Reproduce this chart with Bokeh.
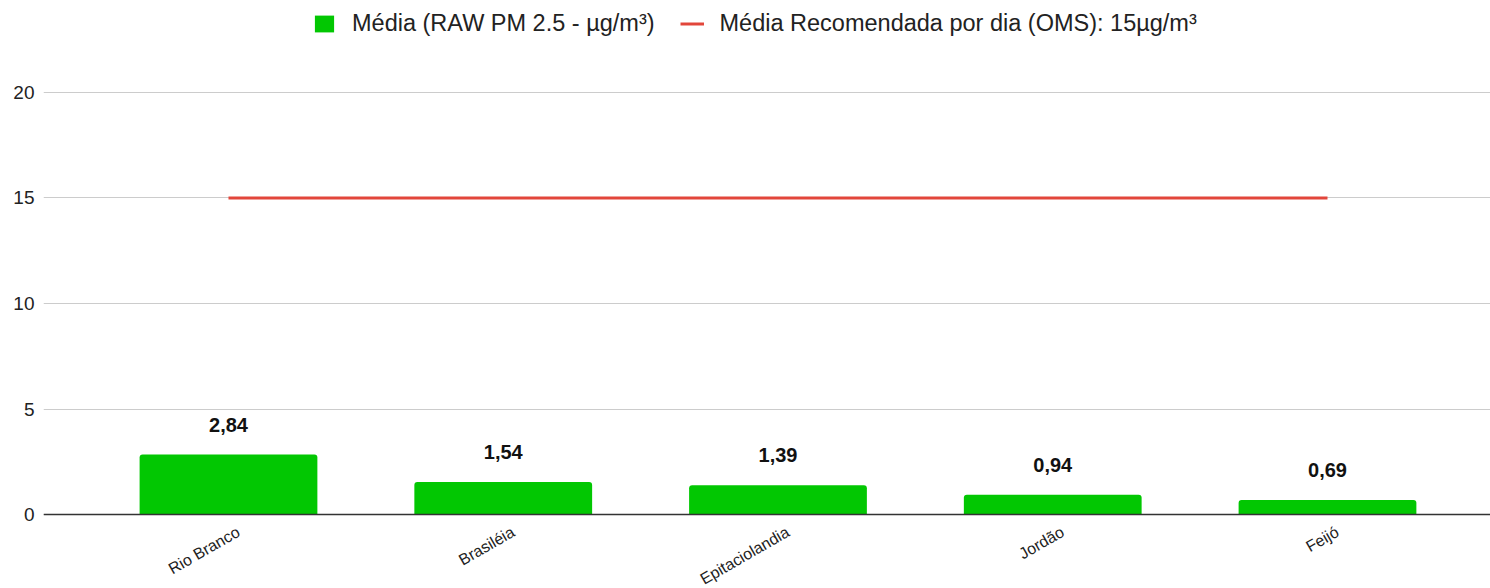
import math
from bokeh.plotting import figure
from bokeh.models import (ColumnDataSource, FixedTicker, Range1d, Span, Legend, LegendItem,
                          LinearAxis)
from bokeh.core.properties import value
from bokeh.embed import file_html
from bokeh.resources import INLINE

cities = ["Rio Branco", "Brasiléia", "Epitaciolandia", "Jordão", "Feijó"]
media = [2.84, 1.54, 1.39, 0.94, 0.69]
oms_limit = [15, 15, 15, 15, 15]
y_ticks = [0, 5, 10, 15, 20]
bar_labels = ["2,84", "1,54", "1,39", "0,94", "0,69"]
legend_bar = "Média (RAW PM 2.5 - µg/m³)"
legend_line = "Média Recomendada por dia (OMS): 15µg/m³"

FONT = "Liberation Sans"

idx = list(range(len(cities)))
src = ColumnDataSource(dict(x=idx, media=media, oms=oms_limit, lab=bar_labels))

x0, x1 = -0.6733, 4.5933
p = figure(width=1490, height=588, output_backend="svg", toolbar_location=None,
           x_range=Range1d(x0, x1), y_range=Range1d(-3.507, 24.36),
           min_border_left=43, min_border_right=0, min_border_top=0, min_border_bottom=0)
p.outline_line_color = None
p.background_fill_color = "white"
p.border_fill_color = "white"

bars = p.vbar(x="x", top="media", width=0.647, bottom=0, source=src,
              fill_color="#02c702", line_color=None, border_radius=(3, 3, 0, 0))
line = p.line(x="x", y="oms", source=src, line_color="#e2463b", line_width=3)
p.text(x="x", y="media", text="lab", source=src, y_offset=-30,
       text_align="center", text_baseline="middle",
       text_font=value(FONT), text_font_style="bold",
       text_font_size="20px", text_color="#111111")

p.add_layout(Span(location=0, dimension="width", line_color="#333333", line_width=1.5))

# axes
p.xgrid.grid_line_color = None
p.ygrid.grid_line_color = "#cccccc"
p.ygrid.grid_line_width = 1
p.yaxis.ticker = FixedTicker(ticks=y_ticks)
p.yaxis.axis_line_color = None
p.yaxis.major_tick_line_color = None
p.yaxis.minor_tick_line_color = None
p.yaxis.major_tick_out = 0
p.yaxis.major_tick_in = 0
p.yaxis.major_label_text_font = FONT
p.yaxis.major_label_text_font_size = "19px"
p.yaxis.major_label_text_color = "#222222"
p.yaxis.major_label_standoff = 9

p.xaxis.visible = False

# category label axis: same scale, anchored slightly right of the category centre
shift = 0.036
p.extra_x_ranges = {"lbl": Range1d(x0 - shift, x1 - shift)}
xax = LinearAxis(x_range_name="lbl", fixed_location=0,
                 ticker=FixedTicker(ticks=idx),
                 major_label_overrides={i: c for i, c in zip(idx, cities)},
                 major_label_orientation=math.pi / 6,
                 axis_line_color=None, major_tick_line_color=None,
                 minor_tick_line_color=None, major_tick_out=0, major_tick_in=0,
                 major_label_text_font=FONT, major_label_text_font_size="16px",
                 major_label_text_color="#222222", major_label_standoff=16)
p.add_layout(xax, "below")

legend = Legend(items=[LegendItem(label=legend_bar, renderers=[bars]),
                       LegendItem(label=legend_line, renderers=[line])],
                orientation="horizontal", location=(269, 551),
                glyph_width=24, glyph_height=21, label_height=21,
                label_standoff=16, spacing=25,
                padding=4, margin=0, border_line_color=None, background_fill_alpha=0,
                label_text_font=FONT, label_text_font_size="23.5px",
                label_text_color="#222222")
p.add_layout(legend, "center")

open("out.html", "w").write(file_html(p, INLINE))
